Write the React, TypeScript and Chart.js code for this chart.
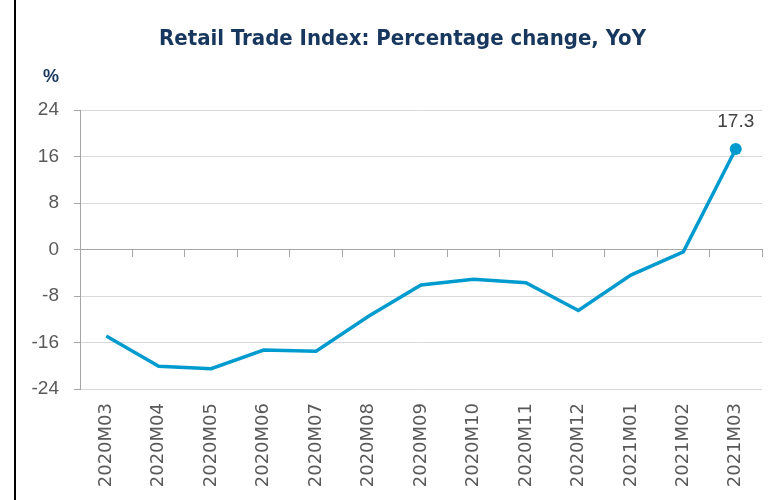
import React, { useEffect, useRef } from "react";
import { Chart, registerables } from "chart.js";

Chart.register(...registerables);

const categories = [
  "2020M03", "2020M04", "2020M05", "2020M06", "2020M07", "2020M08", "2020M09",
  "2020M10", "2020M11", "2020M12", "2021M01", "2021M02", "2021M03",
];
const retailYoY = [-14.9, -20.1, -20.5, -17.3, -17.5, -11.5, -6.1, -5.1, -5.7, -10.5, -4.4, -0.4, 17.3];
const yTicks = [-24, -16, -8, 0, 8, 16, 24];
const chartTitle = "Retail Trade Index: Percentage change, YoY";
const unitLabel = "%";

const LINE = "rgb(0,155,206)";
const NAVY = "#17375E";
const GRID = "#D9D9D9";
const AXIS = "#A6A6A6";
const TEXT = "#595959";

const lastLabelPlugin = {
  id: "lastLabel",
  afterDatasetsDraw(chart: any) {
    const meta = chart.getDatasetMeta(0);
    const i = retailYoY.length - 1;
    const pt = meta.data[i];
    if (!pt) return;
    const ctx = chart.ctx;
    ctx.save();
    ctx.font = "19px 'Liberation Sans', Arial, sans-serif";
    ctx.fillStyle = "#404040";
    ctx.textAlign = "center";
    ctx.textBaseline = "alphabetic";
    ctx.fillText(String(retailYoY[i]), pt.x, pt.y - 22);
    ctx.restore();
  },
};

const headerPlugin = {
  id: "header",
  afterDraw(chart: any) {
    const { ctx, chartArea } = chart;
    const unitX = chartArea.left - 37;
    ctx.save();
    ctx.fillStyle = NAVY;
    ctx.textBaseline = "middle";
    // unit label
    ctx.font = "bold 18px 'Liberation Sans', Arial, sans-serif";
    ctx.textAlign = "left";
    ctx.fillText(unitLabel, unitX, chartArea.top - 33);
    // title, centred between unit label and plot right edge
    ctx.font = "bold 22px 'Liberation Sans Narrow', 'DejaVu Sans Condensed', sans-serif";
    ctx.textAlign = "center";
    ctx.fillText(chartTitle, (unitX + chartArea.right) / 2, chartArea.top - 71);
    ctx.restore();
  },
};

export default function App() {
  const ref = useRef<HTMLCanvasElement | null>(null);
  useEffect(() => {
    if (!ref.current) return;
    const chart = new Chart(ref.current, {
      type: "line",
      data: {
        labels: categories,
        datasets: [
          {
            data: retailYoY,
            borderColor: LINE,
            backgroundColor: LINE,
            borderWidth: 3.5,
            tension: 0,
            pointRadius: (c: any) => (c.dataIndex === retailYoY.length - 1 ? 6 : 0),
            pointBorderWidth: 0,
            pointBackgroundColor: LINE,
          },
        ],
      },
      options: {
        animation: false,
        responsive: false,
        maintainAspectRatio: false,
        layout: { padding: { left: 0, right: 21, top: 110, bottom: 0 } },
        plugins: {
          legend: { display: false },
          tooltip: { enabled: false },
          title: { display: false },
        },
        scales: {
          x: {
            type: "category",
            position: "bottom",
            offset: true,
            grid: { display: false, drawTicks: false },
            border: { display: false },
            ticks: {
              color: TEXT,
              font: { family: "'DejaVu Sans', sans-serif", size: 18 },
              maxRotation: 90,
              minRotation: 90,
              padding: 14,
              autoSkip: false,
            },
            afterFit: (s: any) => { s.height = 111; },
          },
          x2: {
            type: "category",
            position: { y: 0 },
            offset: true,
            grid: { offset: true, drawOnChartArea: false, drawTicks: true, tickLength: 7, color: AXIS },
            border: { display: true, color: AXIS, width: 1 },
            ticks: { display: false },
          },
          y: {
            min: -24,
            max: 24,
            afterBuildTicks: (s: any) => { s.ticks = yTicks.map((v) => ({ value: v })); },
            grid: { color: GRID, tickColor: AXIS, tickLength: 6, drawTicks: true },
            border: { display: true, color: AXIS, width: 1 },
            ticks: {
              color: TEXT,
              font: { family: "'Liberation Sans', Arial, sans-serif", size: 19 },
              padding: 15,
            },
            afterFit: (s: any) => { s.width = 80; },
          },
        },
      },
      plugins: [lastLabelPlugin, headerPlugin],
    } as any);
    return () => chart.destroy();
  }, []);

  return (
    <div style={{ position: "fixed", left: 0, top: 0, width: 783, height: 500, background: "#fff" }}>
      <div style={{ position: "absolute", left: 14, top: 0, width: 2, height: 500, background: "#000" }} />
      <canvas ref={ref} width={783} height={500} style={{ position: "absolute", left: 0, top: 0 }} />
    </div>
  );
}
